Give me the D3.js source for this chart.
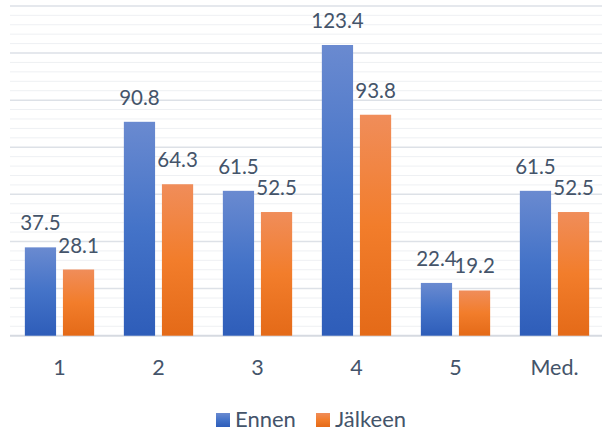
<!DOCTYPE html>
<html>
<head>
<meta charset="utf-8">
<script src="https://cdn.jsdelivr.net/npm/d3@7"></script>
<style>
  html, body { margin: 0; padding: 0; background: #fff; }
  svg { display: block; }
  text { font-family: Lato, "Open Sans", sans-serif; fill: #44546A; }
</style>
</head>
<body>
<svg id="chart" width="602" height="437"></svg>
<script>
const categories = ["1", "2", "3", "4", "5", "Med."];
const seriesNames = ["Ennen", "Jälkeen"];
const ennen = [37.5, 90.8, 61.5, 123.4, 22.4, 61.5];
const jalkeen = [28.1, 64.3, 52.5, 93.8, 19.2, 52.5];
const yMax = 140;
const majorStep = 20;
const minorStep = 4;

const seriesValues = [ennen, jalkeen];
const svg = d3.select("#chart");
const plot = { left: 10, right: 604, top: 5.9, bottom: 335.7 };

const defs = svg.append("defs");
const grads = [
  { id: "gBlue", stops: [["0%", "#6A8AD0"], ["50%", "#4473C8"], ["100%", "#2E5DB9"]] },
  { id: "gOrange", stops: [["0%", "#F08D5A"], ["50%", "#F27D2B"], ["100%", "#E46A18"]] }
];
grads.forEach(g => {
  const lg = defs.append("linearGradient").attr("id", g.id)
    .attr("x1", 0).attr("y1", 0).attr("x2", 0).attr("y2", 1);
  g.stops.forEach(s => lg.append("stop").attr("offset", s[0]).attr("stop-color", s[1]));
});
const fills = ["url(#gBlue)", "url(#gOrange)"];

const x0 = d3.scaleBand().domain(categories).range([plot.left, plot.right])
  .paddingInner(0.3).paddingOuter(0.15);
const x1 = d3.scaleBand().domain(seriesNames).range([0, x0.bandwidth()]).paddingInner(0.18);
const y = d3.scaleLinear().domain([0, yMax]).range([plot.bottom, plot.top]);

// minor gridlines
const minorTicks = d3.range(0, yMax + 0.001, minorStep).filter(v => v % majorStep !== 0);
svg.append("g").selectAll("line").data(minorTicks).join("line")
  .attr("x1", plot.left).attr("x2", plot.right)
  .attr("y1", d => y(d)).attr("y2", d => y(d))
  .attr("stroke", "#EEF0F3").attr("stroke-width", 1);

// major gridlines
const majorTicks = d3.range(0, yMax + 0.001, majorStep);
svg.append("g").selectAll("line").data(majorTicks).join("line")
  .attr("x1", plot.left).attr("x2", plot.right)
  .attr("y1", d => y(d)).attr("y2", d => y(d))
  .attr("stroke", d => d === 0 ? "#D6DAE1" : "#DDE1E7")
  .attr("stroke-width", d => d === 0 ? 2 : 1.5);

// bars
const groups = svg.append("g").selectAll("g").data(categories).join("g")
  .attr("transform", c => `translate(${x0(c)},0)`);
seriesNames.forEach((s, si) => {
  groups.append("rect")
    .attr("x", x1(s))
    .attr("width", x1.bandwidth())
    .attr("y", (c, i) => y(seriesValues[si][i]))
    .attr("height", (c, i) => y(0) - y(seriesValues[si][i]))
    .attr("fill", fills[si]);
});
// labels
seriesNames.forEach((s, si) => {
  groups.append("text")
    .attr("x", x1(s) + x1.bandwidth() / 2)
    .attr("y", (c, i) => y(seriesValues[si][i]) - 17)
    .attr("text-anchor", "middle")
    .attr("font-size", 20.5)
    .text((c, i) => seriesValues[si][i].toFixed(1));
});

// x axis labels
svg.append("g").selectAll("text").data(categories).join("text")
  .attr("x", c => x0(c) + x0.bandwidth() / 2)
  .attr("y", 375)
  .attr("text-anchor", "middle")
  .attr("font-size", 21.5)
  .text(c => c);

// legend
const legendX = [216, 316];
const lg = svg.append("g");
seriesNames.forEach((s, i) => {
  lg.append("rect").attr("x", legendX[i]).attr("y", 413)
    .attr("width", 14).attr("height", 14).attr("fill", fills[i]);
  lg.append("text").attr("x", legendX[i] + 19).attr("y", 427)
    .attr("font-size", 22).text(s);
});
</script>
</body>
</html>
